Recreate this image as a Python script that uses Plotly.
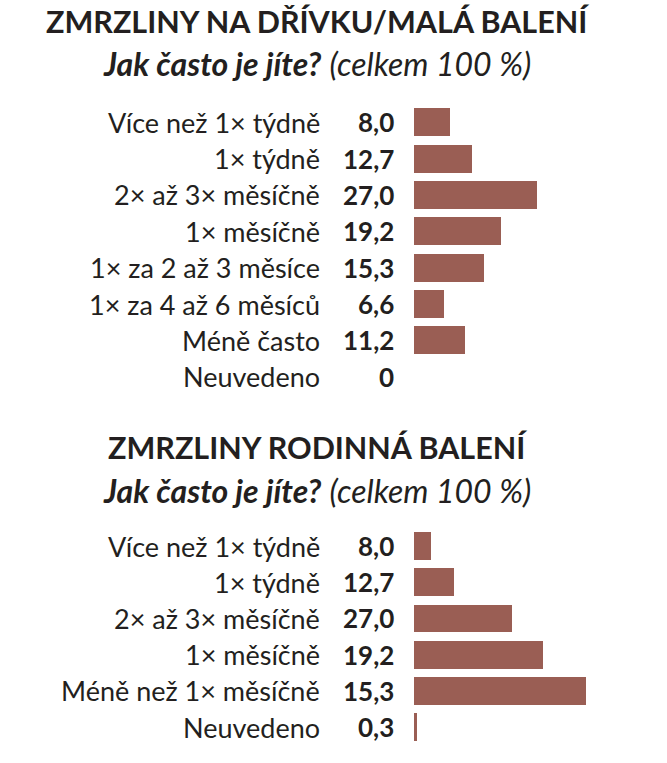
import plotly.graph_objects as go
from plotly.subplots import make_subplots

# Chart 1: ZMRZLINY NA DŘÍVKU/MALÁ BALENÍ
cats_small = [
    "Více než 1× týdně", "1× týdně", "2× až 3× měsíčně", "1× měsíčně",
    "1× za 2 až 3 měsíce", "1× za 4 až 6 měsíců", "Méně často", "Neuvedeno",
]
vals_small = [8.0, 12.7, 27.0, 19.2, 15.3, 6.6, 11.2, 0.0]

# Chart 2: ZMRZLINY RODINNÁ BALENÍ
# bar lengths as drawn in the source; printed numbers differ from the bars
cats_family = [
    "Více než 1× týdně", "1× týdně", "2× až 3× měsíčně", "1× měsíčně",
    "Méně než 1× měsíčně", "Neuvedeno",
]
vals_family = [3.7, 8.8, 21.5, 28.4, 37.8, 0.6]
labels_family = ["8,0", "12,7", "27,0", "19,2", "15,3", "0,3"]

TITLE_1 = "ZMRZLINY NA DŘÍVKU/MALÁ BALENÍ"
TITLE_2 = "ZMRZLINY RODINNÁ BALENÍ"
SUBTITLE = "<b><i>Jak často je jíte?</i></b> <i>(celkem 100 %)</i>"

W, H = 667, 763
FONT = "Lato"
INK = "#231f20"
BAR = "#9a5e54"


def fmt(v):
    return "0" if v == 0 else f"{v:.1f}".replace(".", ",")


labels_small = [fmt(v) for v in vals_small]

fig = make_subplots(rows=2, cols=1)
fig.add_trace(go.Bar(
    x=vals_small, y=cats_small, orientation="h",
    marker=dict(color=BAR, line_width=0), width=0.77,
), row=1, col=1)
fig.add_trace(go.Bar(
    x=vals_family, y=cats_family, orientation="h",
    marker=dict(color=BAR, line_width=0), width=0.77,
), row=2, col=1)

x_dom = [414 / W, 1]
x_rng = [0, (W - 414) / 4.55]
fig.update_xaxes(domain=x_dom, range=x_rng, visible=False, fixedrange=True)
fig.update_yaxes(visible=False, autorange=False, type="category",
                 fixedrange=True)
fig.update_layout(
    yaxis=dict(domain=[1 - 395 / H, 1 - 104 / H], range=[7.5, -0.5]),
    yaxis2=dict(domain=[1 - 745.1 / H, 1 - 527.9 / H], range=[5.5, -0.5]),
)

ann = []
for yref, cats, labs in (("y", cats_small, labels_small),
                         ("y2", cats_family, labels_family)):
    for c, lab in zip(cats, labs):
        ann.append(dict(
            x=322 / W, xref="paper", y=c, yref=yref, text=c,
            xanchor="right", yanchor="middle", showarrow=False,
            font=dict(size=27, color=INK, family=FONT),
        ))
        ann.append(dict(
            x=396 / W, xref="paper", y=c, yref=yref, text=f"<b>{lab}</b>",
            xanchor="right", yanchor="middle", showarrow=False,
            font=dict(size=26, color=INK, family=FONT),
        ))

for text, yc, size in ((f"<b>{TITLE_1}</b>", 21, 30.5), (SUBTITLE, 64, 32),
                       (f"<b>{TITLE_2}</b>", 447, 30.5), (SUBTITLE, 490, 32)):
    ann.append(dict(
        x=317 / W, xref="paper", y=1 - yc / H, yref="paper", text=text,
        xanchor="center", yanchor="middle", showarrow=False,
        font=dict(size=size, color=INK, family=FONT),
    ))

fig.update_layout(
    width=W, height=H, margin=dict(l=0, r=0, t=0, b=0),
    paper_bgcolor="white", plot_bgcolor="white",
    showlegend=False, bargap=0, annotations=ann,
)
fig.write_html(
    "out.html",
    config={"displayModeBar": False},
    post_script="document.body.style.margin='0';",
)
